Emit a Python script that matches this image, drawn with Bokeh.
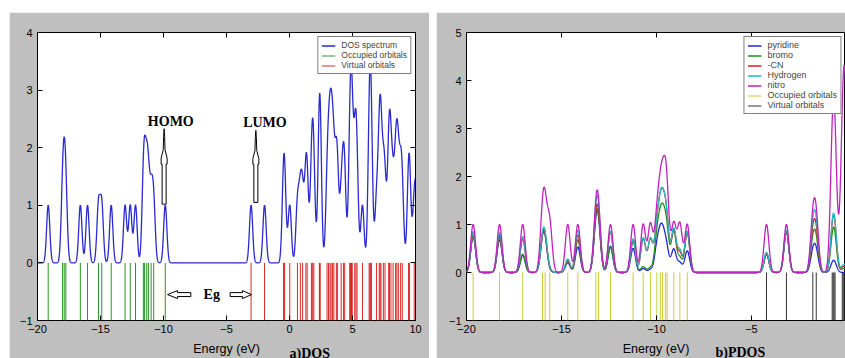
import numpy as np
from bokeh.plotting import figure
from bokeh.layouts import row, column
from bokeh.models import (Legend, LegendItem, Label, LinearAxis, FixedTicker, Range1d, Spacer,
                          Title)
from bokeh.embed import file_html
from bokeh.resources import INLINE

# ---------------- data: a) DOS (orbital energies, eV) ----------------
occ_a = [-19.15, -18.01, -17.88, -17.75, -16.60, -16.03, -15.16, -14.90, -14.15,
         -13.05, -12.64, -12.22, -11.60, -11.50, -11.33, -11.20, -10.98, -10.78, -9.86]
virt_a = [-3.05, -1.98, -0.47, -0.39, 0.02, 0.63, 0.86, 1.04, 1.30, 1.40, 1.74, 1.84,
          1.93, 2.37, 2.40, 2.43, 2.98, 3.10, 3.22, 3.30, 3.42, 3.52, 3.72, 3.80, 4.10,
          4.28, 4.38, 4.78, 4.84, 4.92, 4.98, 5.18, 5.27, 5.36, 5.79, 6.32, 6.38, 6.44,
          6.50, 6.90, 7.12, 7.19, 7.26, 7.45, 7.58, 7.87, 7.93, 8.05, 8.22, 8.42, 8.52,
          8.64, 8.82, 8.95, 9.45, 9.53, 9.90, 10.10]

# ---------------- data: b) PDOS ----------------
occ_b = [-19.65, -18.26, -17.04, -16.00, -15.86, -15.62, -14.67, -14.14, -13.19, -13.05,
         -12.42, -11.23, -10.70, -10.32, -9.98, -9.80, -9.68, -9.53, -9.44, -9.09, -8.77, -8.38]
virt_b = [-4.21, -3.16, -1.77, -1.59, -0.75, -0.70, -0.65, -0.60,
          -0.22, -0.17, -0.12, -0.07, -0.02]
# cumulative fragment level of each orbital (occupied then virtual)
lvl_pyridine = [.75, .68, .36, .50, .50, .02, .20, .53, .75, .75, .53, .50, .08, .06, .48, .48,
                .48, .28, .28, .48, .20, .45,
                .38, .85, .39, .39, .07, .07, .07, .07, .00, .00, .00, .00, .00]
lvl_bromo = [.78, .74, .38, .52, .52, .03, .22, .68, .78, .78, .55, .66, .12, .10, .65, .65,
             .65, .50, .50, .85, .30, .82,
             .38, .86, .58, .58, .26, .26, .26, .26, .02, .02, .02, .02, .02]
lvl_cn = [.80, .78, .70, .53, .53, .04, .25, .78, .83, .83, .85, .68, .70, .68, .80, .80,
          .80, .60, .60, .88, .40, .85,
          .40, .87, .72, .72, .33, .33, .33, .33, .03, .03, .03, .03, .03]
lvl_hydrogen = [.85, .84, .75, .55, .55, .05, .28, .88, .94, .94, .86, .70, .72, .70, .80, .80,
                .80, .60, .60, .90, .45, .86,
                .42, .88, .84, .84, .34, .34, .34, .34, .04, .04, .04, .04, .04]
lvl_nitro = [1.0] * 35

xticks_a = [-20, -15, -10, -5, 0, 5, 10]
yticks_a = [-1, 0, 1, 2, 3, 4]
xticks_b = [-20, -15, -10, -5, 0]
yticks_b = [-1, 0, 1, 2, 3, 4, 5]

FWHM = 0.3
STICK_TOP, STICK_BOTTOM = 0, -1
HOMO_LABEL_X, LUMO_LABEL_X, LABEL_Y = -9.42, -1.95, 2.33
HOMO_ARROW_X, LUMO_ARROW_X = -9.95, -2.67
EG_X, EG_Y = -6.17, -0.55

GRAY = "#bfbfbf"


def broaden(energies, weights, grid):
    sigma = FWHM / 2.3548
    e = np.asarray(energies, dtype=float)[:, None]
    w = np.asarray(weights, dtype=float)[:, None]
    return (w * np.exp(-(grid[None, :] - e) ** 2 / (2 * sigma ** 2))).sum(axis=0)


def minus(v):
    return str(v).replace("-", "\u2212")


def style(p, xt, yt, right_axis=True):
    p.background_fill_color = "white"
    p.border_fill_color = GRAY
    p.outline_line_color = "black"
    p.outline_line_width = 1
    p.xgrid.visible = False
    p.ygrid.visible = False
    bx, ly = p.below[0], p.left[0]
    bx.ticker = FixedTicker(ticks=xt)
    ly.ticker = FixedTicker(ticks=yt)
    bx.major_label_overrides = {v: minus(v) for v in xt}
    ly.major_label_overrides = {v: minus(v) for v in yt}
    for ax in (bx, ly):
        ax.major_label_text_font = "Liberation Sans"
        ax.major_label_text_font_size = "11px"
        ax.major_label_text_color = "black"
    bx.major_label_standoff = 4
    ly.major_label_standoff = 5
    bx.axis_label = "Energy (eV)"
    bx.axis_label_text_font = "Liberation Sans"
    bx.axis_label_text_font_size = "12.5px"
    bx.axis_label_text_font_style = "normal"
    bx.axis_label_text_color = "black"
    bx.axis_label_standoff = 6
    extra = [("above", xt)]
    if right_axis:
        extra.append(("right", yt))
    for side, ticks in extra:
        ax = LinearAxis(ticker=FixedTicker(ticks=ticks),
                        major_label_overrides={v: "" for v in ticks},
                        major_label_text_font_size="0px", major_label_standoff=0)
        p.add_layout(ax, side)
    for ax in p.axis:
        ax.major_tick_in = 5
        ax.major_tick_out = 0
        ax.minor_tick_line_color = None
        ax.axis_line_color = None
        ax.major_tick_line_color = "black"


def legend_style(lg, size):
    lg.location = "top_right"
    lg.border_line_color = "black"
    lg.border_line_width = 1
    lg.background_fill_color = "white"
    lg.background_fill_alpha = 1
    lg.label_text_font = "Liberation Sans"
    lg.label_text_font_size = size
    lg.glyph_width = 14
    lg.glyph_height = 9
    lg.label_height = 9
    lg.spacing = 0
    lg.padding = 3
    lg.margin = 4
    lg.label_standoff = 6


def panel_title(p, text, offset, standoff):
    p.add_layout(Title(text=text, align="left", offset=offset, standoff=standoff,
                       vertical_align="top",
                       text_font="Liberation Serif", text_font_style="bold",
                       text_font_size="14px", text_color="black"), "below")


# ================= panel a =================
p1 = figure(width=420, height=346, x_range=Range1d(-20, 10), y_range=Range1d(-1, 4),
            output_backend="svg", toolbar_location=None,
            min_border_left=28, min_border_right=14, min_border_top=19, min_border_bottom=36)
style(p1, xticks_a, yticks_a)

grid_a = np.linspace(-20, 10, 3001)
dos_a = broaden(occ_a + virt_a, [1.0] * (len(occ_a) + len(virt_a)), grid_a)
r_dos = p1.line(grid_a, dos_a, line_color="#2a2ad0", line_width=1.3)
r_occ = p1.segment(x0=occ_a, y0=STICK_TOP, x1=occ_a, y1=STICK_BOTTOM,
                   line_color="#2a962a", line_width=1)
r_vir = p1.segment(x0=virt_a, y0=STICK_TOP, x1=virt_a, y1=STICK_BOTTOM,
                   line_color="#d82828", line_width=1)

px_x = 30 / 378.0
px_y = 5 / 291.0


def up_arrow(p, xc, y0, y1):
    L = y1 - y0
    sw, cw, nw, tw = 2 * px_x, 3 * px_x, 0.9 * px_x, 0.5 * px_x
    ys_ = [y0, y0, y0 + .53 * L, y0 + .53 * L, y0 + .61 * L, y0 + .72 * L, y0 + .9 * L, y1,
           y0 + .9 * L, y0 + .72 * L, y0 + .61 * L, y0 + .53 * L, y0 + .53 * L]
    xs_ = [xc - sw, xc + sw, xc + sw, xc + cw, xc + cw, xc + nw, xc + tw, xc,
           xc - tw, xc - nw, xc - cw, xc - cw, xc - sw]
    p.patch(xs_, ys_, fill_color="white", line_color="black", line_width=1)


def side_arrow(p, x_tail, x_base, x_tip, yc):
    sh, hh = 2 * px_y, 4 * px_y
    xs_ = [x_tail, x_base, x_base, x_tip, x_base, x_base, x_tail]
    ys_ = [yc - sh, yc - sh, yc - hh, yc, yc + hh, yc + sh, yc + sh]
    p.patch(xs_, ys_, fill_color="white", line_color="black", line_width=1)


up_arrow(p1, HOMO_ARROW_X, 1.02, LABEL_Y)
up_arrow(p1, LUMO_ARROW_X, 1.05, LABEL_Y - 0.03)
side_arrow(p1, -7.83, -8.89, -9.68, EG_Y)
side_arrow(p1, -4.71, -3.73, -3.02, EG_Y)

for txt, xx, yy, base in [("HOMO", HOMO_LABEL_X, LABEL_Y, "bottom"),
                          ("LUMO", LUMO_LABEL_X, LABEL_Y - 0.03, "bottom"),
                          ("Eg", EG_X, EG_Y, "middle")]:
    p1.add_layout(Label(x=xx, y=yy, text=txt, text_align="center", text_baseline=base,
                        text_font="Liberation Serif", text_font_style="bold",
                        text_font_size="14px", text_color="black"))

lg1 = Legend(items=[LegendItem(label="DOS spectrum", renderers=[r_dos]),
                    LegendItem(label="Occupied orbitals", renderers=[r_occ]),
                    LegendItem(label="Virtual orbitals", renderers=[r_vir])])
legend_style(lg1, "8.5px")
p1.add_layout(lg1)
panel_title(p1, "a)DOS", 252, -26)

# ================= panel b =================
XMAX_B = -0.05
p2 = figure(width=409, height=346, x_range=Range1d(-20, XMAX_B), y_range=Range1d(-1, 5),
            output_backend="svg", toolbar_location=None,
            min_border_left=30, min_border_right=0, min_border_top=20, min_border_bottom=38)
style(p2, xticks_b, yticks_b, right_axis=False)

grid_b = np.linspace(-20, XMAX_B, 3001)
orbs_b = occ_b + virt_b
series_b = [("pyridine", lvl_pyridine, "#2424e0"),
            ("bromo", lvl_bromo, "#1f8f1f"),
            ("-CN", lvl_cn, "#e01c1c"),
            ("Hydrogen", lvl_hydrogen, "#22bdbd"),
            ("nitro", lvl_nitro, "#bf22bf")]
items_b = []
for name, lv, col in series_b:
    r = p2.line(grid_b, broaden(orbs_b, lv, grid_b), line_color=col, line_width=1.3)
    items_b.append(LegendItem(label=name, renderers=[r]))
r_occ_b = p2.segment(x0=occ_b, y0=STICK_TOP, x1=occ_b, y1=STICK_BOTTOM,
                     line_color="#cccc30", line_width=1)
r_vir_b = p2.segment(x0=virt_b, y0=STICK_TOP, x1=virt_b, y1=STICK_BOTTOM,
                     line_color="#333333", line_width=1)
items_b.append(LegendItem(label="Occupied orbitals", renderers=[r_occ_b]))
items_b.append(LegendItem(label="Virtual orbitals", renderers=[r_vir_b]))
lg2 = Legend(items=items_b)
legend_style(lg2, "9px")
p2.add_layout(lg2)
panel_title(p2, "b)PDOS", 249, -27)

layout = column(Spacer(height=12),
                row(Spacer(width=9), p1, Spacer(width=7), p2))
open("out.html", "w").write(file_html(layout, INLINE))
